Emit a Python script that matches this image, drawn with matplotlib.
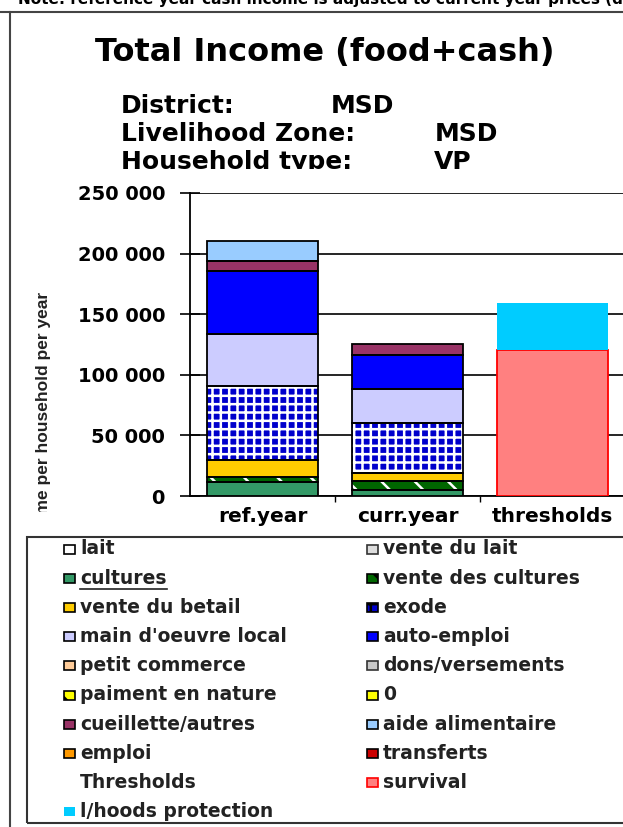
import matplotlib
matplotlib.use("Agg")
import matplotlib.pyplot as plt
from matplotlib.patches import Rectangle
from matplotlib.lines import Line2D
from matplotlib.transforms import Bbox, TransformedBbox
from matplotlib.ticker import FuncFormatter

plt.rcParams['font.family'] = ['DejaVu Sans']
plt.rcParams['font.weight'] = 'bold'
plt.rcParams['hatch.linewidth'] = 1.8

# data
years = ["ref.year", "curr.year", "thresholds"]
sources = ["cultures", "vente des cultures", "vente du betail", "exode",
           "main d'oeuvre local", "auto-emploi", "cueillette/autres",
           "aide alimentaire"]
ref_year = [11800, 4100, 13800, 61000, 42600, 52000, 8700, 16300]
curr_year = [5000, 7600, 6600, 41300, 27500, 28000, 9100, 0]
survival = 120500
lhoods_protection = 38700

src_style = {
    "cultures": ("#339966", None),
    "vente des cultures": ("#006600", "\\"),
    "vente du betail": ("#FFCC00", None),
    "exode": ("#0000CC", "++"),
    "main d'oeuvre local": ("#CCCCFF", None),
    "auto-emploi": ("#0000FF", None),
    "cueillette/autres": ("#993366", None),
    "aide alimentaire": ("#99CCFF", None),
}

legend_items = [
    ("lait", "#FFFFFF", None, "k"), ("vente du lait", "#DDDDDD", None, "#333333"),
    ("cultures", "#339966", None, "k"), ("vente des cultures", "#006600", "\\", "k"),
    ("vente du betail", "#FFCC00", None, "k"), ("exode", "#0000CC", "++", "k"),
    ("main d'oeuvre local", "#CCCCFF", None, "k"), ("auto-emploi", "#0000FF", None, "k"),
    ("petit commerce", "#FFCC99", None, "k"), ("dons/versements", "#C8C8C8", None, "#333333"),
    ("paiment en nature", "#FFFF00", "\\\\", "k"), ("0", "#FFFF00", None, "k"),
    ("cueillette/autres", "#993366", None, "k"), ("aide alimentaire", "#99CCFF", None, "k"),
    ("emploi", "#FF9900", None, "k"), ("transferts", "#CC0000", None, "k"),
    ("Thresholds", None, None, None), ("survival", "#FF8080", None, "#FF0000"),
    ("l/hoods protection", "#00CCFF", None, "none"),
]

W, H = 623, 827
fig = plt.figure(figsize=(W / 100, H / 100), dpi=100)


def fx(px):
    return px / W


def fy(py):
    return 1 - py / H


# frame lines around the sheet
fig.add_artist(Line2D([0, 1], [fy(12), fy(12)], color="#444444", lw=1.5))
fig.add_artist(Line2D([fx(10), fx(10)], [fy(12), 0], color="#444444", lw=1.5))
fig.text(fx(18), fy(4), "Note: reference year cash income is adjusted to current year prices (deflated)",
         fontsize=11, va="baseline", ha="left", color="k")

fig.text(fx(325), fy(52), "Total Income (food+cash)", fontsize=23, ha="center", va="center")
fig.text(fx(121), fy(106), "District:", fontsize=18, va="center")
fig.text(fx(331), fy(106), "MSD", fontsize=18, va="center")
fig.text(fx(121), fy(134), "Livelihood Zone:", fontsize=18, va="center")
fig.text(fx(435), fy(134), "MSD", fontsize=18, va="center")
clip_top = TransformedBbox(Bbox([[0, fy(169)], [1, 1]]), fig.transFigure)
for x, s in [(121, "Household type:"), (434, "VP")]:
    t = fig.text(fx(x), fy(162), s, fontsize=18, va="center")
    t.set_clip_box(clip_top)
    t.set_clip_on(True)

ax = fig.add_axes([fx(190), fy(496), fx(625) - fx(190), fy(193) - fy(496)])
ax.set_xlim(0, 3)
ax.set_ylim(0, 250000)
xs = [0.5, 1.5, 2.5]
bw = 0.765

for i, vals in enumerate([ref_year, curr_year]):
    bottom = 0
    for name, v in zip(sources, vals):
        if v <= 0:
            continue
        col, hatch = src_style[name]
        if hatch:
            ax.bar(xs[i], v, bw, bottom=bottom, color=col, edgecolor="white",
                   hatch=hatch, linewidth=0, zorder=3)
        else:
            ax.bar(xs[i], v, bw, bottom=bottom, color=col, linewidth=0, zorder=3)
        ax.bar(xs[i], v, bw, bottom=bottom, fill=False, edgecolor="k",
               linewidth=1.3, zorder=4)
        bottom += v

ax.bar(xs[2], survival, bw, color="#FF8080", edgecolor="#FF0000", linewidth=1.3, zorder=3)
ax.bar(xs[2], lhoods_protection, bw, bottom=survival, color="#00CCFF",
       edgecolor="none", zorder=3)

ax.spines["top"].set_visible(False)
ax.spines["right"].set_visible(False)
ax.spines["left"].set_linewidth(1.3)
ax.spines["bottom"].set_linewidth(1.3)
ax.set_yticks([0, 50000, 100000, 150000, 200000, 250000])
ax.yaxis.set_major_formatter(FuncFormatter(lambda v, p: f"{int(v):,}".replace(",", " ")))
ax.tick_params(axis="y", direction="inout", length=14, width=1.2, labelsize=14, pad=11)
ax.grid(axis="y", color="k", linewidth=1.2, zorder=0)
ax.set_xticks([1, 2, 3])
ax.set_xticklabels([])
ax.set_xticks(xs, minor=True)
ax.set_xticklabels(years, minor=True, fontsize=14.5)
ax.tick_params(axis="x", which="major", direction="out", length=4, width=1)
ax.tick_params(axis="x", which="minor", length=0, pad=8)

yl = fig.text(fx(44), fy(421), "Income per household per year", rotation=90,
              fontsize=12.5, fontweight="bold", ha="center", va="center", color="#222222",
              family=["Liberation Sans", "DejaVu Sans"])
yl.set_clip_box(TransformedBbox(Bbox([[0, fy(512)], [1, 1]]), fig.transFigure))
yl.set_clip_on(True)

# legend box
fig.add_artist(Rectangle((fx(27), fy(823)), fx(640) - fx(27), fy(537) - fy(823),
                         transform=fig.transFigure, fill=False, edgecolor="#333333", lw=1.5))
underline = None
for k, (label, col, hatch, ec) in enumerate(legend_items):
    row, colm = divmod(k, 2)
    y = 549 + row * 29.2
    mx = 64 if colm == 0 else 367
    if col is not None:
        fig.add_artist(Rectangle((fx(mx), fy(y + 4.5)), fx(11), fy(y - 4.5) - fy(y + 4.5),
                                 transform=fig.transFigure, facecolor=col,
                                 edgecolor=ec, hatch=hatch, lw=1.2))
    t = fig.text(fx(mx + 16), fy(y), label, fontsize=13.5, va="center", ha="left",
                 color="#222222")
    if label == "cultures":
        underline = t

fig.canvas.draw()
bb = underline.get_window_extent().transformed(fig.transFigure.inverted())
fig.add_artist(Line2D([bb.x0, bb.x1], [bb.y0 - 0.002, bb.y0 - 0.002], color="#222222", lw=1.2))

fig.savefig("out.png", dpi=100)
